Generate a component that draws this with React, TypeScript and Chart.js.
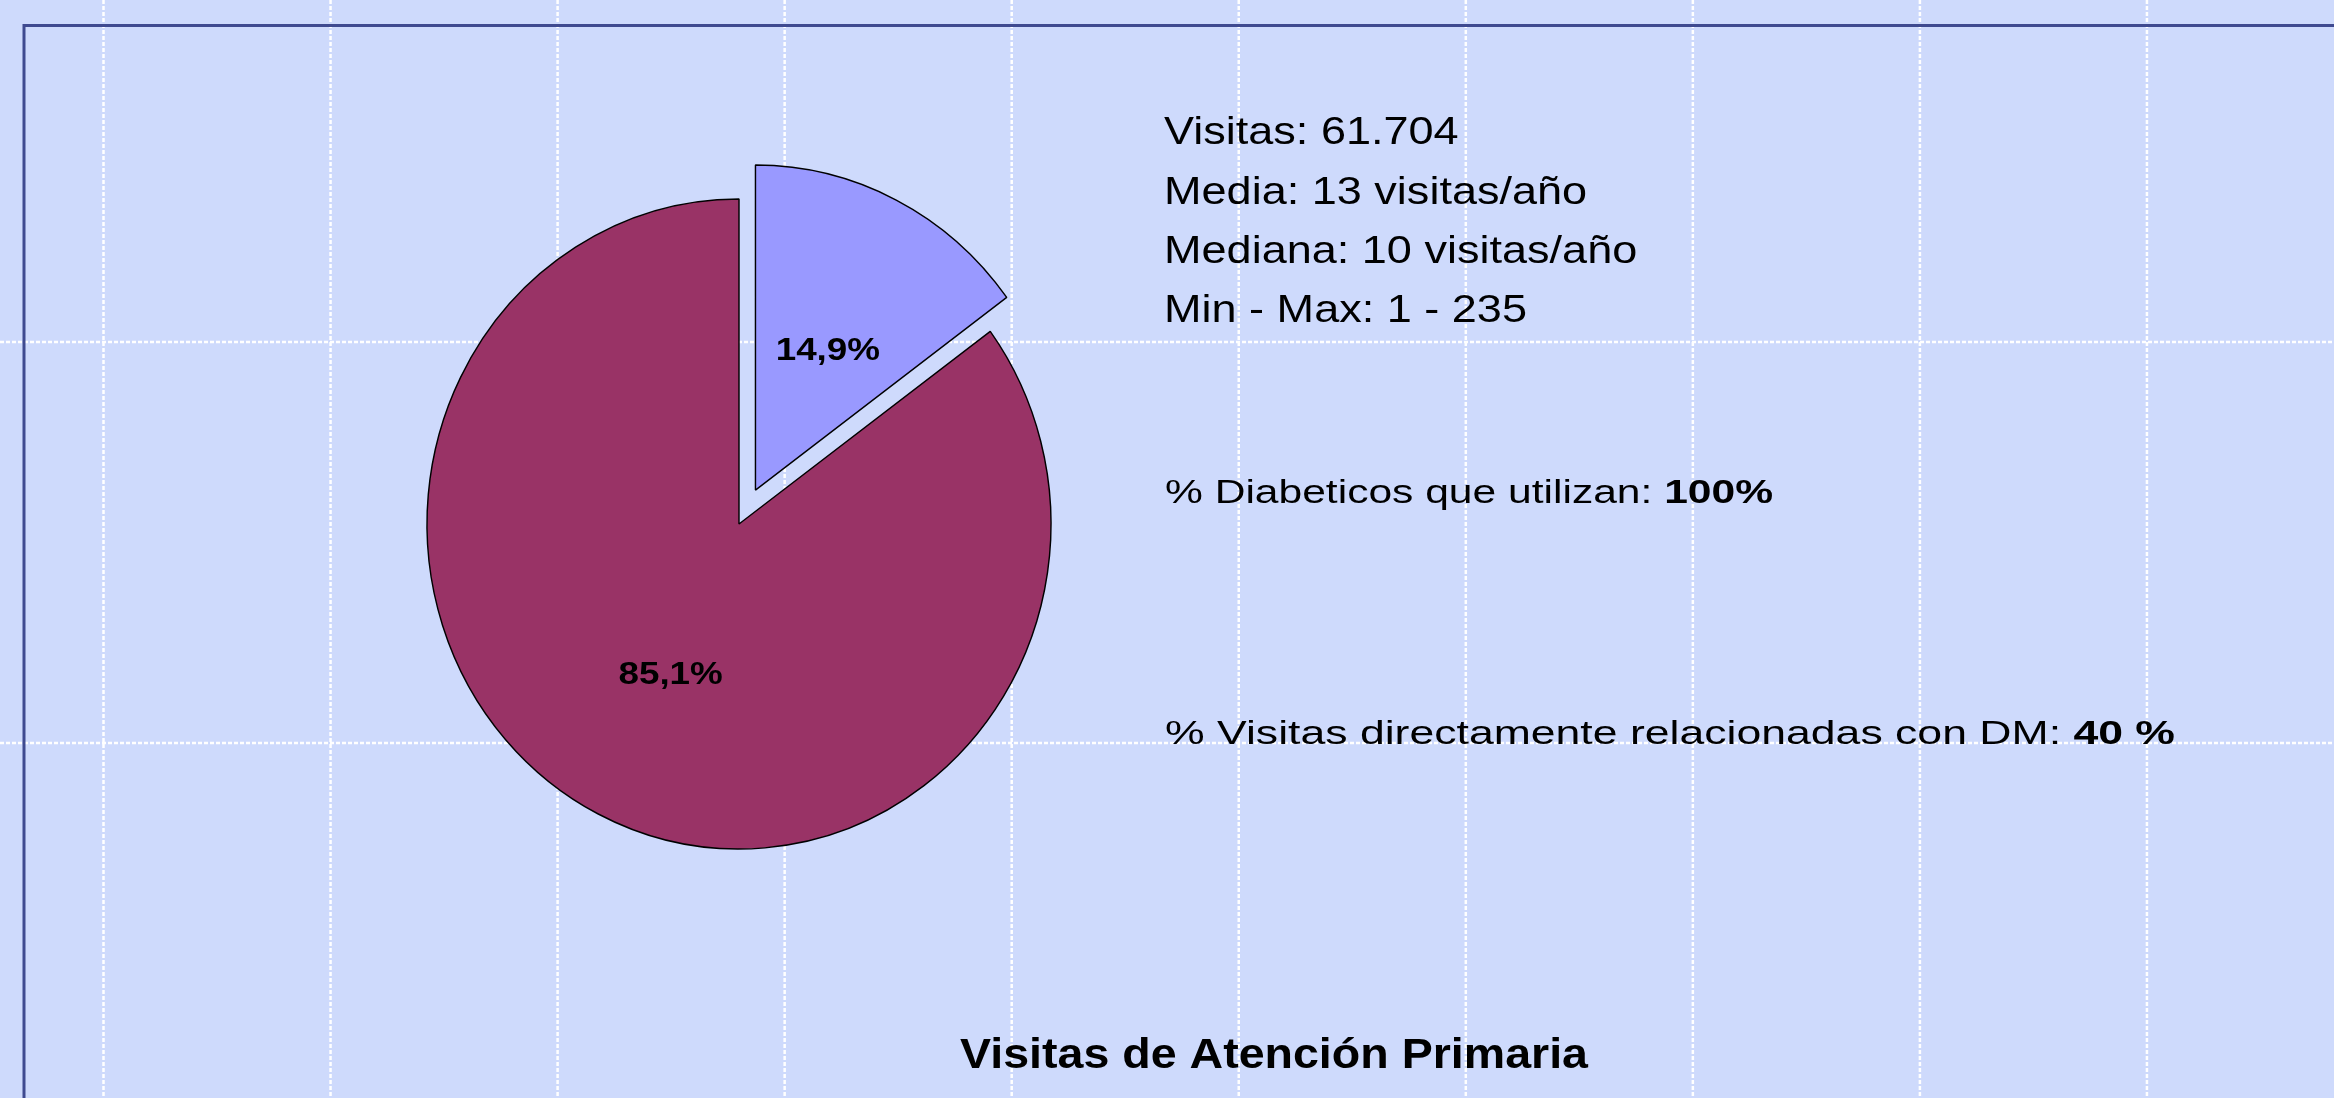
import React, { useEffect, useRef } from "react";
import { Chart, registerables } from "chart.js";

Chart.register(...registerables);

// ---- data ----
const sliceLabels = ["Diabéticos", "Resto"];
const sliceShares = [14.9, 85.1];
const sliceColors = ["#9999FF", "#993366"];
const sliceExplode = [38, 0];

const statLines = [
  "Visitas: 61.704",
  "Media: 13 visitas/año",
  "Mediana: 10 visitas/año",
  "Min - Max: 1 - 235",
];
const usageLabel = "% Diabeticos que utilizan: ";
const usageValue = "100%";
const dmLabel = "% Visitas directamente relacionadas con DM: ";
const dmValue = "40 %";
const chartTitle = "Visitas de Atención Primaria";

// ---- layout / style ----
const W = 2334;
const H = 1098;
const FONT = '"Liberation Sans", Arial, Helvetica, sans-serif';
const BG = "#CEDAFC";

type Seg = { text: string; bold?: boolean };

function drawRich(
  ctx: CanvasRenderingContext2D,
  segs: Seg[],
  x: number,
  baseline: number,
  size: number,
  opts: { scaleX?: number; fitWidth?: number; align?: "left" | "center" }
) {
  ctx.save();
  ctx.textBaseline = "alphabetic";
  ctx.textAlign = "left";
  ctx.fillStyle = "#000";
  let natural = 0;
  const widths = segs.map((s) => {
    ctx.font = `${s.bold ? "bold " : ""}${size}px ${FONT}`;
    const w = ctx.measureText(s.text).width;
    natural += w;
    return w;
  });
  const sx = opts.fitWidth ? opts.fitWidth / natural : opts.scaleX || 1;
  const total = natural * sx;
  const startX = opts.align === "center" ? x - total / 2 : x;
  ctx.translate(startX, baseline);
  ctx.scale(sx, 1);
  let cur = 0;
  segs.forEach((s, i) => {
    ctx.font = `${s.bold ? "bold " : ""}${size}px ${FONT}`;
    ctx.fillText(s.text, cur, 0);
    cur += widths[i];
  });
  ctx.restore();
}

export default function App() {
  const ref = useRef<HTMLCanvasElement>(null);

  useEffect(() => {
    const canvas = ref.current;
    if (!canvas) return;

    const pieCenter = { x: 739, y: 524 };
    const pieRadius = 325;
    const pieSquash = 0.96;

    const backdrop = {
      id: "backdrop",
      beforeDraw(chart: any) {
        const ctx: CanvasRenderingContext2D = chart.ctx;
        ctx.save();
        ctx.fillStyle = BG;
        ctx.fillRect(0, 0, chart.width, chart.height);
        ctx.strokeStyle = "#FFFFFF";
        ctx.lineWidth = 2.5;
        ctx.setLineDash([4, 2]);
        for (let x = 103.5; x < chart.width; x += 227.05) {
          ctx.beginPath();
          ctx.moveTo(x, 0);
          ctx.lineTo(x, chart.height);
          ctx.stroke();
        }
        [342, 743].forEach((y) => {
          ctx.beginPath();
          ctx.moveTo(0, y);
          ctx.lineTo(chart.width, y);
          ctx.stroke();
        });
        ctx.setLineDash([]);
        ctx.strokeStyle = "#3F4A90";
        ctx.lineWidth = 3;
        ctx.beginPath();
        ctx.moveTo(24, chart.height + 5);
        ctx.lineTo(24, 25.5);
        ctx.lineTo(chart.width + 5, 25.5);
        ctx.stroke();
        ctx.restore();
      },
    };

    const explode = {
      id: "explode",
      afterDatasetsUpdate(chart: any) {
        const meta = chart.getDatasetMeta(0);
        meta.data.forEach((el: any, i: number) => {
          const d = sliceExplode[i] || 0;
          if (!d) return;
          const mid = (el.startAngle + el.endAngle) / 2;
          el.x += Math.cos(mid) * d;
          el.y += Math.sin(mid) * d;
        });
      },
    };

    const squash = {
      id: "squash",
      beforeDatasetsDraw(chart: any) {
        const ctx: CanvasRenderingContext2D = chart.ctx;
        const a = chart.chartArea;
        const cx = (a.left + a.right) / 2;
        ctx.save();
        ctx.translate(cx, 0);
        ctx.scale(pieSquash, 1);
        ctx.translate(-cx, 0);
      },
      afterDatasetsDraw(chart: any) {
        chart.ctx.restore();
      },
    };

    const annotations = {
      id: "annotations",
      afterDraw(chart: any) {
        const ctx: CanvasRenderingContext2D = chart.ctx;
        const a = chart.chartArea;
        const cx = (a.left + a.right) / 2;
        // slice labels
        const meta = chart.getDatasetMeta(0);
        meta.data.forEach((el: any, i: number) => {
          const mid = (el.startAngle + el.endAngle) / 2;
          const r = el.outerRadius * 0.5;
          const lx = cx + (el.x - cx + Math.cos(mid) * r) * pieSquash;
          const ly = el.y + Math.sin(mid) * r;
          const txt = sliceShares[i].toFixed(1).replace(".", ",") + "%";
          drawRich(ctx, [{ text: txt, bold: true }], lx + 2, ly + 15, 32, {
            scaleX: 1.15,
            align: "center",
          });
        });
        // stats block
        const statBaselines = [144, 204, 263, 322];
        statLines.forEach((t, i) => {
          drawRich(ctx, [{ text: t }], 1164, statBaselines[i], 38.5, { scaleX: 1.17 });
        });
        drawRich(
          ctx,
          [{ text: usageLabel }, { text: usageValue, bold: true }],
          1165,
          503,
          34,
          { fitWidth: 1773 - 1165 }
        );
        drawRich(
          ctx,
          [{ text: dmLabel }, { text: dmValue, bold: true }],
          1165,
          744,
          34,
          { fitWidth: 2175 - 1165 }
        );
        drawRich(ctx, [{ text: chartTitle, bold: true }], 1274, 1068, 42, {
          fitWidth: 628,
          align: "center",
        });
      },
    };

    const chart = new Chart(canvas, {
      type: "pie",
      data: {
        labels: sliceLabels,
        datasets: [
          {
            data: sliceShares,
            backgroundColor: sliceColors,
            borderColor: "#000000",
            borderWidth: 1.5,
            radius: pieRadius,
            hoverOffset: 0,
          } as any,
        ],
      },
      options: {
        responsive: false,
        animation: false,
        events: [],
        layout: {
          padding: {
            left: 0,
            top: 0,
            right: W - 2 * pieCenter.x,
            bottom: H - 2 * pieCenter.y,
          },
        },
        plugins: {
          legend: { display: false },
          tooltip: { enabled: false },
        },
      } as any,
      plugins: [backdrop, explode, squash, annotations],
    });

    return () => chart.destroy();
  }, []);

  return (
    <div style={{ position: "fixed", left: 0, top: 0, width: W, height: H, overflow: "hidden" }}>
      <canvas ref={ref} width={W} height={H} style={{ display: "block", width: W, height: H }} />
    </div>
  );
}
